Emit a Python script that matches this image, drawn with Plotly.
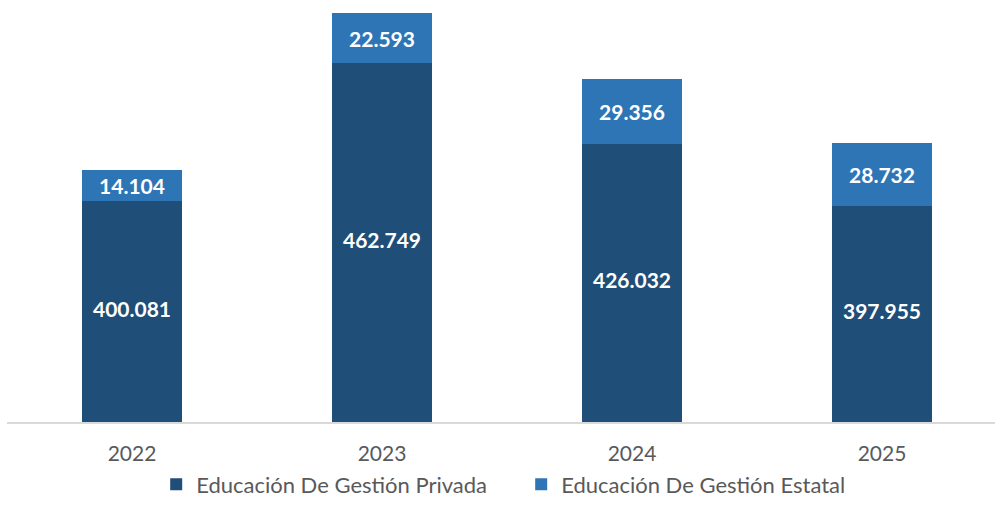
import plotly.graph_objects as go

anios = ["2022", "2023", "2024", "2025"]
privada = [400081, 462749, 426032, 397955]
estatal = [14104, 22593, 29356, 28732]

# el eje vertical de la referencia no arranca en cero
Y_MIN = 300000
Y_MAX = 491400

COLOR_PRIVADA = "#1F4E79"
COLOR_ESTATAL = "#2E75B6"
FUENTE = "Lato"

fig = go.Figure()
fig.add_trace(go.Bar(x=anios, y=privada, name="Educación De Gestión Privada",
                     marker_color=COLOR_PRIVADA, marker_line_width=0, width=0.4,
                     textposition="none", hoverinfo="y"))
fig.add_trace(go.Bar(x=anios, y=estatal, name="Educación De Gestión Estatal",
                     marker_color=COLOR_ESTATAL, marker_line_width=0, width=0.4,
                     texttemplate="%{y:,.0f}", textposition="inside",
                     insidetextanchor="middle",
                     textfont=dict(family=FUENTE, size=21, color="white", weight="bold")))
# etiquetas de la parte privada, centradas en la zona visible de la barra
fig.add_trace(go.Scatter(x=anios, y=[(Y_MIN + p) / 2 for p in privada],
                         customdata=privada, mode="text",
                         texttemplate="%{customdata:,.0f}", showlegend=False,
                         hoverinfo="skip",
                         textfont=dict(family=FUENTE, size=21, color="white", weight="bold")))

fig.update_layout(
    barmode="stack",
    separators=",.",
    width=995, height=506,
    margin=dict(l=7, r=0, t=0, b=73),
    plot_bgcolor="white", paper_bgcolor="white",
    font=dict(family=FUENTE, color="#595959"),
    legend=dict(orientation="h", x=0.151, xanchor="left", y=-0.148, yanchor="middle",
                font=dict(size=22, color="#595959"), traceorder="normal",
                itemwidth=30, entrywidth=320),
)
fig.update_xaxes(type="category", range=[-0.5, 3.452], showline=True, linecolor="#D9D9D9",
                 linewidth=2, ticks="outside", ticklen=12, tickcolor="rgba(0,0,0,0)",
                 automargin=False, tickfont=dict(size=21, color="#595959"))
fig.update_yaxes(range=[Y_MIN, Y_MAX], visible=False, showgrid=False, automargin=False)

# sin margen en el body para que la figura ocupe justo la ventana
fig.write_html("out.html", post_script="document.body.style.margin = '0';",
               config={"displayModeBar": False})
